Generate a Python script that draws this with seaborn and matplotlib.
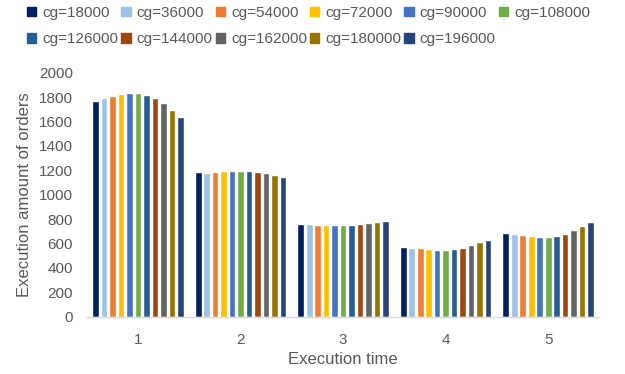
import matplotlib
matplotlib.use("Agg")
import matplotlib.pyplot as plt
import matplotlib.patches as mpatches
import seaborn as sns
import pandas as pd

times = ["1", "2", "3", "4", "5"]
series = ["cg=18000", "cg=36000", "cg=54000", "cg=72000", "cg=90000", "cg=108000",
          "cg=126000", "cg=144000", "cg=162000", "cg=180000", "cg=196000"]
values = {
    "cg=18000":  [1770, 1184, 760, 574, 689],
    "cg=36000":  [1790, 1180, 760, 566, 678],
    "cg=54000":  [1807, 1189, 755, 561, 667],
    "cg=72000":  [1828, 1194, 755, 552, 661],
    "cg=90000":  [1834, 1197, 755, 547, 653],
    "cg=108000": [1834, 1197, 752, 547, 653],
    "cg=126000": [1820, 1192, 752, 552, 661],
    "cg=144000": [1793, 1186, 760, 566, 680],
    "cg=162000": [1749, 1175, 768, 590, 708],
    "cg=180000": [1692, 1164, 776, 610, 743],
    "cg=196000": [1634, 1142, 786, 631, 779],
}
colors = ["#002060", "#9DC3E6", "#ED7D31", "#FFC000", "#4472C4", "#70AD47",
          "#255E91", "#9E480E", "#636363", "#997300", "#264478"]

rows = []
for s in series:
    for t, v in zip(times, values[s]):
        rows.append({"time": t, "series": s, "value": v})
df = pd.DataFrame(rows)

sns.set_style("white")
plt.rcParams["font.family"] = ["Liberation Sans", "DejaVu Sans"]
gray = "#595959"

fig = plt.figure(figsize=(6.25, 3.74), dpi=100)
ax = fig.add_axes([0.1388, 0.1532, 0.8202, 0.6524])
sns.barplot(data=df, x="time", y="value", hue="series", hue_order=series,
            palette=colors, width=0.91, gap=0.2, saturation=1, ax=ax,
            legend=False, errorbar=None)

ax.set_ylim(0, 2000)
ax.set_yticks(range(0, 2001, 200))
ax.set_xlim(-0.5, 4.5)
for side in ["left", "right", "top"]:
    ax.spines[side].set_visible(False)
ax.spines["bottom"].set_color("#D9D9D9")
ax.spines["bottom"].set_linewidth(1.0)
ax.tick_params(axis="both", length=0, labelsize=11, labelcolor=gray)
ax.tick_params(axis="y", pad=10)
ax.tick_params(axis="x", pad=12)
ax.set_xlabel("Execution time", fontsize=12, color=gray, labelpad=3)
ax.set_ylabel("Execution amount of orders", fontsize=12, color=gray, labelpad=5)

handles = [mpatches.Patch(color=c, label=s) for s, c in zip(series, colors)]
order = [0, 6, 1, 7, 2, 8, 3, 9, 4, 10, 5]
fig.legend([handles[i] for i in order], [series[i] for i in order],
           ncol=6, loc="upper left", bbox_to_anchor=(27 / 625, 1 - 6 / 374),
           frameon=False, fontsize=11, handlelength=0.6, handleheight=0.6,
           handletextpad=0.4, columnspacing=0.2, labelspacing=0.8,
           borderpad=0, borderaxespad=0, labelcolor=gray)

fig.savefig("out.png", dpi=100)
